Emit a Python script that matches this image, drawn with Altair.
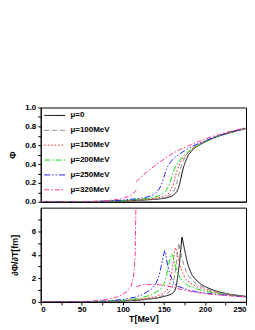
import altair as alt
import pandas as pd

labels = ["μ=0", "μ=100MeV", "μ=150MeV", "μ=200MeV", "μ=250MeV", "μ=320MeV"]
colors = ["#000000", "#8c8c8c", "#ff2020", "#11dd11", "#2020ff", "#ff3399"]
dashes = [[1, 0], [5, 3], [1.5, 2], [6, 2, 1.5, 2], [6, 2, 1.5, 2, 1.5, 2], [5, 2, 1.5, 2]]

x_ticks = [0, 25, 50, 75, 100, 125, 150, 175, 200, 225, 250]
phi_ticks = [0, 0.1, 0.2, 0.3, 0.4, 0.5, 0.6, 0.7, 0.8, 0.9, 1.0]
d_ticks = [0, 1, 2, 3, 4, 5, 6, 7]

# ---- Phi (top panel) ----
phi_T0 = [0, 50, 80, 100, 120, 140, 150, 155, 160, 164, 166, 168, 170, 172, 174, 176, 178, 180, 184, 188, 195, 200, 210, 220, 230, 240, 250]
phi_V0 = [0, 0, 0.003, 0.008, 0.015, 0.025, 0.035, 0.045, 0.06, 0.09, 0.11, 0.15, 0.22, 0.30, 0.37, 0.42, 0.46, 0.50, 0.54, 0.575, 0.61, 0.635, 0.675, 0.705, 0.73, 0.755, 0.775]
phi_T100 = [0, 50, 80, 100, 120, 140, 150, 156, 160, 162, 164, 166, 168, 170, 172, 174, 176, 180, 184, 190, 200, 210, 220, 230, 240, 250]
phi_V100 = [0, 0, 0.003, 0.009, 0.017, 0.03, 0.042, 0.06, 0.09, 0.11, 0.15, 0.21, 0.28, 0.35, 0.40, 0.44, 0.48, 0.525, 0.56, 0.60, 0.645, 0.68, 0.71, 0.735, 0.76, 0.778]
phi_T150 = [0, 50, 80, 100, 120, 140, 150, 154, 157, 160, 162, 164, 166, 168, 170, 174, 180, 186, 192, 200, 210, 220, 230, 240, 250]
phi_V150 = [0, 0, 0.004, 0.01, 0.02, 0.037, 0.055, 0.07, 0.10, 0.15, 0.20, 0.27, 0.33, 0.38, 0.42, 0.47, 0.53, 0.57, 0.60, 0.64, 0.68, 0.71, 0.737, 0.76, 0.78]
phi_T200 = [0, 50, 80, 100, 120, 130, 140, 146, 150, 153, 156, 158, 160, 162, 164, 167, 170, 175, 180, 190, 200, 210, 220, 230, 240, 250]
phi_V200 = [0, 0, 0.005, 0.012, 0.025, 0.035, 0.05, 0.07, 0.09, 0.12, 0.17, 0.22, 0.28, 0.33, 0.37, 0.41, 0.45, 0.50, 0.535, 0.59, 0.635, 0.675, 0.71, 0.735, 0.76, 0.78]
phi_T250 = [0, 40, 60, 80, 100, 120, 130, 136, 140, 144, 147, 149, 151, 153, 155, 158, 162, 168, 175, 185, 200, 210, 220, 230, 240, 250]
phi_V250 = [0, 0, 0.002, 0.007, 0.017, 0.035, 0.05, 0.07, 0.09, 0.13, 0.18, 0.23, 0.29, 0.34, 0.38, 0.42, 0.46, 0.50, 0.54, 0.59, 0.645, 0.68, 0.71, 0.737, 0.76, 0.78]
phi_T320a = [0, 40, 60, 80, 90, 100, 105, 110, 113, 115, 116.5]
phi_V320a = [0, 0, 0.003, 0.012, 0.02, 0.035, 0.05, 0.07, 0.09, 0.11, 0.13]
phi_T320b = [116.5, 120, 125, 130, 140, 150, 160, 170, 180, 190, 200, 210, 220, 230, 240, 250]
phi_V320b = [0.21, 0.245, 0.285, 0.32, 0.39, 0.45, 0.51, 0.555, 0.595, 0.63, 0.665, 0.695, 0.72, 0.745, 0.765, 0.785]

# ---- dPhi/dT (bottom panel) ----
d_T0 = [0, 60, 80, 100, 120, 140, 150, 155, 160, 163, 165, 167, 169, 171, 172, 173, 175, 178, 180, 184, 190, 196, 200, 210, 220, 230, 240, 250]
d_V0 = [0, 0.01, 0.03, 0.07, 0.15, 0.3, 0.45, 0.55, 0.7, 0.9, 1.3, 2.2, 3.3, 4.8, 5.5, 5.2, 4.5, 3.5, 3.0, 2.3, 1.8, 1.45, 1.3, 1.0, 0.8, 0.65, 0.55, 0.47]
d_T100 = [0, 60, 80, 100, 120, 140, 150, 155, 159, 161, 163, 165, 167, 168, 169, 171, 174, 177, 180, 185, 190, 200, 210, 220, 230, 240, 250]
d_V100 = [0, 0.01, 0.03, 0.08, 0.17, 0.35, 0.55, 0.75, 1.0, 1.4, 2.2, 3.2, 4.4, 5.0, 4.7, 4.0, 3.2, 2.6, 2.2, 1.8, 1.5, 1.15, 0.9, 0.75, 0.62, 0.52, 0.45]
d_T150 = [0, 60, 80, 100, 120, 140, 150, 154, 157, 159, 161, 163, 164, 165, 167, 170, 173, 177, 182, 190, 200, 210, 220, 230, 240, 250]
d_V150 = [0, 0.015, 0.04, 0.1, 0.22, 0.45, 0.75, 1.0, 1.5, 2.2, 3.2, 4.2, 4.6, 4.4, 3.8, 3.0, 2.4, 1.9, 1.6, 1.3, 1.05, 0.85, 0.7, 0.6, 0.5, 0.44]
d_T200 = [0, 60, 80, 100, 120, 135, 145, 150, 153, 156, 158, 159.5, 161, 163, 166, 170, 175, 180, 190, 200, 210, 220, 230, 240, 250]
d_V200 = [0, 0.02, 0.05, 0.13, 0.3, 0.6, 1.0, 1.5, 2.2, 3.2, 3.8, 4.1, 3.9, 3.3, 2.6, 2.0, 1.6, 1.35, 1.1, 0.9, 0.78, 0.67, 0.58, 0.5, 0.44]
d_T250 = [0, 60, 80, 100, 115, 125, 135, 140, 144, 147, 149, 151, 152, 154, 156, 158, 162, 166, 172, 180, 190, 200, 220, 250]
d_V250 = [0, 0.03, 0.08, 0.2, 0.4, 0.65, 1.1, 1.5, 2.2, 3.1, 3.8, 4.35, 4.2, 3.3, 2.7, 2.2, 1.6, 1.35, 1.2, 1.0, 0.85, 0.75, 0.6, 0.42]
d_T320a = [0, 40, 60, 80, 90, 96, 100, 105, 110, 113, 115, 116, 116.3]
d_V320a = [0, 0.01, 0.05, 0.2, 0.35, 0.5, 0.65, 0.9, 1.3, 2.1, 4.0, 8.5, 12]
d_T320b = [116.5, 125, 135, 145, 155, 165, 175, 190, 200, 220, 250]
d_V320b = [1.3, 1.45, 1.48, 1.45, 1.35, 1.15, 1.0, 0.8, 0.7, 0.57, 0.42]

phi_sets = [
    (labels[0], "a", phi_T0, phi_V0), (labels[1], "a", phi_T100, phi_V100),
    (labels[2], "a", phi_T150, phi_V150), (labels[3], "a", phi_T200, phi_V200),
    (labels[4], "a", phi_T250, phi_V250), (labels[5], "a", phi_T320a, phi_V320a),
    (labels[5], "b", phi_T320b, phi_V320b),
]
d_sets = [
    (labels[0], "a", d_T0, d_V0), (labels[1], "a", d_T100, d_V100),
    (labels[2], "a", d_T150, d_V150), (labels[3], "a", d_T200, d_V200),
    (labels[4], "a", d_T250, d_V250), (labels[5], "a", d_T320a, d_V320a),
    (labels[5], "b", d_T320b, d_V320b),
]

def build(sets):
    rows = []
    for lab, seg, ts, vs in sets:
        for t, v in zip(ts, vs):
            rows.append({"T": t, "v": v, "mu": lab, "seg": lab + seg})
    return pd.DataFrame(rows)

phi_df = build(phi_sets)
d_df = build(d_sets)

FONT = "Liberation Sans"
color_scale = alt.Scale(domain=labels, range=colors)
dash_scale = alt.Scale(domain=labels, range=dashes)

top = alt.Chart(phi_df).mark_line(strokeWidth=1, clip=True).encode(
    x=alt.X("T:Q", scale=alt.Scale(domain=[0, 250], nice=False),
            axis=alt.Axis(labels=False, title=None, ticks=False, grid=False)),
    y=alt.Y("v:Q", scale=alt.Scale(domain=[0, 1], nice=False),
            axis=alt.Axis(values=phi_ticks, title="Φ",
                          labelExpr="round(datum.value*10) % 2 == 0 ? format(datum.value, '.1f') : ''",
                          grid=False, tickSize=3, titlePadding=7)),
    color=alt.Color("mu:N", scale=color_scale, sort=labels,
                    legend=alt.Legend(title=None, orient="none", legendX=3, legendY=-3,
                                      symbolType="stroke", symbolSize=441, symbolStrokeWidth=1,
                                      labelFontSize=8, labelFont=FONT, labelFontWeight="bold",
                                      rowPadding=-8, labelOffset=5)),
    strokeDash=alt.StrokeDash("mu:N", scale=dash_scale, sort=labels, legend=None),
    detail="seg:N",
).properties(width=207, height=95)

bottom = alt.Chart(d_df).mark_line(strokeWidth=1, clip=True).encode(
    x=alt.X("T:Q", scale=alt.Scale(domain=[0, 250], nice=False),
            axis=alt.Axis(values=x_ticks, title="T[MeV]", grid=False,
                          labelExpr="datum.value % 50 == 0 ? datum.label : ''",
                          tickSize=3, labelPadding=1, titlePadding=1, labelFlush=True)),
    y=alt.Y("v:Q", scale=alt.Scale(domain=[0, 8], nice=False),
            axis=alt.Axis(values=d_ticks, title="∂Φ/∂T[fm]", grid=False, tickSize=3,
                          labelExpr="datum.value % 2 == 0 ? datum.label : ''",
                          titlePadding=12)),
    color=alt.Color("mu:N", scale=color_scale, sort=labels, legend=None),
    strokeDash=alt.StrokeDash("mu:N", scale=dash_scale, sort=labels, legend=None),
    detail="seg:N",
).properties(width=207, height=95)

chart = alt.vconcat(top, bottom, spacing=0).resolve_scale(
    color="shared", strokeDash="shared"
).configure_view(stroke="black", strokeWidth=1).configure_axis(
    domainColor="black", tickColor="black", labelColor="black", titleColor="black",
    labelFont=FONT, titleFont=FONT, labelFontSize=8, titleFontSize=9,
    labelFontWeight="bold", titleFontWeight="bold"
).configure_legend(labelColor="black").properties(
    padding={"left": 0, "top": 94, "right": 0, "bottom": 0},
)

chart.save("out.html", embed_options={"renderer": "svg", "actions": False})
